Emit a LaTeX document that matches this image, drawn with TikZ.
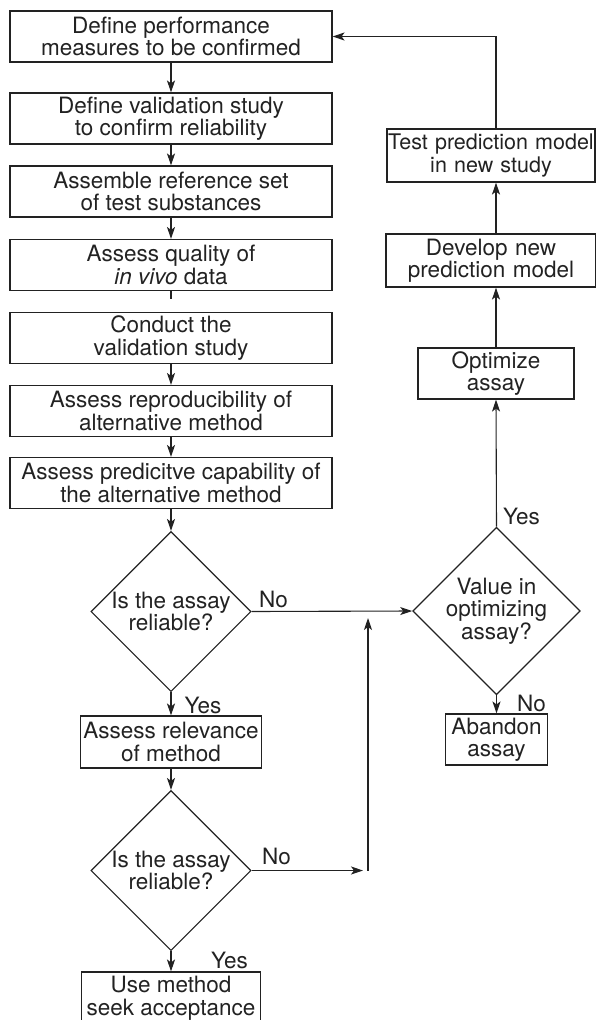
\documentclass[tikz,border=0pt]{standalone}
\usepackage{fontspec}
\setmainfont{TeX Gyre Heros}
\usetikzlibrary{shapes.geometric,arrows.meta,positioning}
\definecolor{ink}{HTML}{222222}

\begin{document}
\begin{tikzpicture}[x=1pt,y=-1pt,line width=1.1pt,draw=ink,text=ink,
    box/.style={rectangle,draw,align=center,inner sep=0pt,minimum height=51pt,font=\fontsize{22.5}{22.5}\selectfont},
    test/.style={diamond,draw,aspect=1,inner sep=0pt,minimum size=160pt,align=center,font=\fontsize{22.5}{22.5}\selectfont},
    answer/.style={inner sep=0pt,font=\fontsize{22.5}{22.5}\selectfont},
    >={Stealth[length=12pt,width=8pt,inset=3pt]}]
\useasboundingbox (0,0) rectangle (595,1020);

% main chain of steps
\foreach \n/\y/\t in {1/36.5/{Define performance\\measures to be confirmed},
                      2/118.5/{Define validation study\\to confirm reliability},
                      3/191.5/{Assemble reference set\\of test substances},
                      4/265/{Assess quality of\\\textit{in vivo} data},
                      5/338/{Conduct the\\validation study},
                      6/411/{Assess reproducibility of\\alternative method},
                      7/483/{Assess predicitve capability of\\the alternative method}}
    \node[box,minimum width=322pt] (b\n) at (171,\y) {\t};
\foreach \a/\b in {1/2,2/3,3/4,5/6,6/7}
    \draw[->] (b\a) -- (b\b);
\draw (b4.south) -- ++(0,8);

% decisions
\node[test] (d1) at (171,611.5) {Is the assay\\reliable?};
\node[box,minimum width=181pt,minimum height=52pt] (rel) at (171,742) {Assess relevance\\of method};
\node[test] (d2) at (171,870.5) {Is the assay\\reliable?};
\node[box,minimum width=179pt,minimum height=52pt] (use) at (171,998) {Use method\\seek acceptance};
\node[test] (d3) at (496.5,611) {Value in\\optimizing\\assay?};
\node[box,minimum width=102pt] (aban) at (496.5,739.5) {Abandon\\assay};

% right column
\node[box,minimum width=156pt] (opt) at (496,373.5) {Optimize\\assay};
\node[box,text width=206pt,inner xsep=2pt,minimum height=53pt] (dev) at (491,260.5) {Develop new\\prediction model};
\node[box,text width=206pt,inner xsep=1pt,minimum height=53pt,font=\fontsize{21.5}{22.5}\selectfont] (tst) at (491,155.5) {\mbox{Test prediction model}\\in new study};

\coordinate (join) at (368,870.5);
\coordinate (merge) at (368,618);

\draw[->] (b7) -- (d1);
\draw[->] (d1) -- (rel);
\draw[->] (rel) -- (d2);
\draw[->] (d2) -- (use);
\draw[->] (d1.east) -- (d3.west);
\draw[->,shorten >=5pt] (d2.east) -- (join);
\draw[->] (join) -- (merge);
\draw[->] (d3) -- (aban);
\draw[->] (d3.north) -- (opt.south);
\draw[->] (opt.north) -- (opt.north |- dev.south);
\draw[->] (opt.north |- dev.north) -- (opt.north |- tst.south);
\draw[->] (opt.north |- tst.north) |- (b1);

% yes / no
\node[answer] (no1) at (273.5,599) {No};
\node[answer] (yes1) at (203,705) {Yes};
\node[answer] (no2) at (276.5,856) {No};
\node[answer] (yes2) at (229.5,960) {Yes};
\node[answer] (no3) at (531.5,703) {No};
\node[answer] (yes3) at (521.5,516) {Yes};
\end{tikzpicture}
\end{document}
